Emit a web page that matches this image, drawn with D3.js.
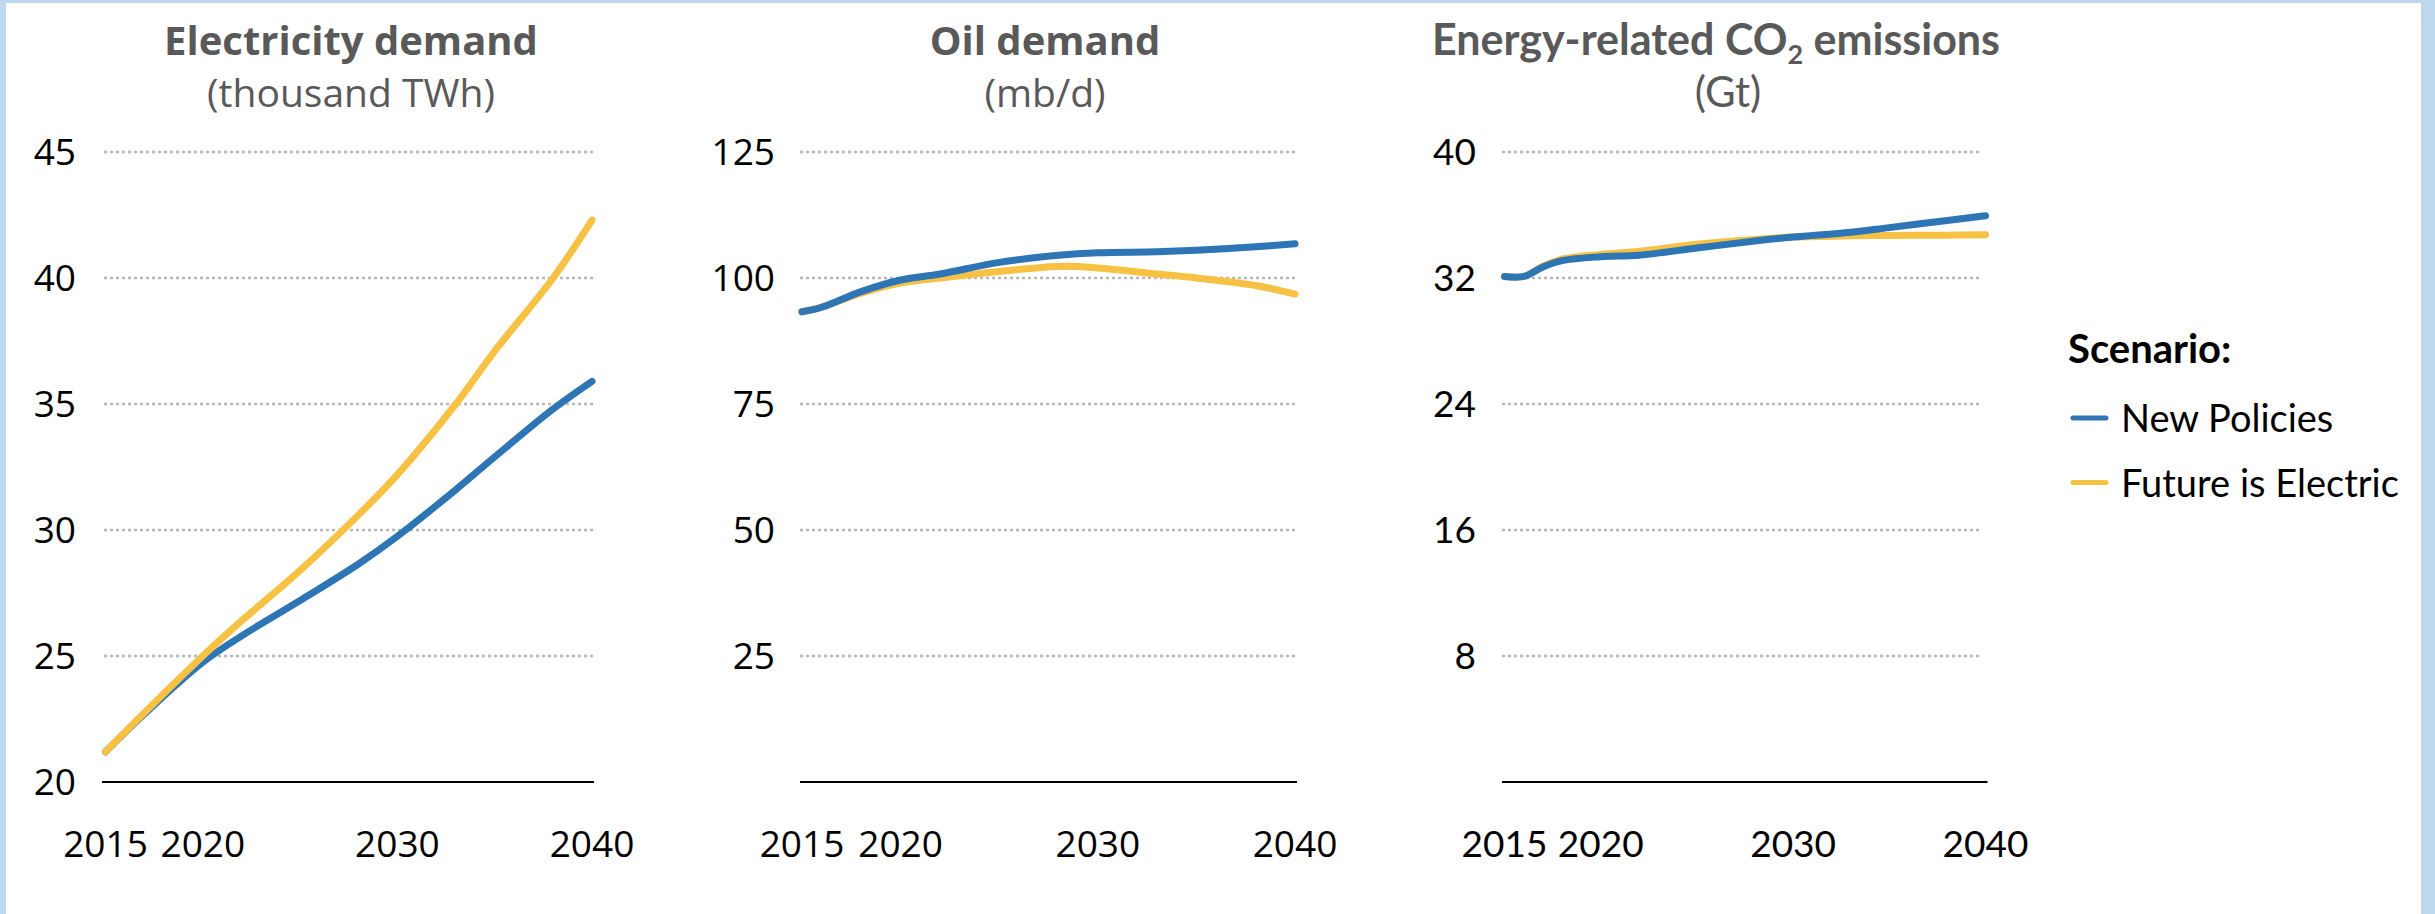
<!DOCTYPE html>
<html>
<head>
<meta charset="utf-8">
<script src="https://cdn.jsdelivr.net/npm/d3@7"></script>
<style>
  html, body { margin: 0; padding: 0; background: #fff; }
  svg { display: block; }
</style>
</head>
<body>
<div id="chart"></div>
<script>
// scenario series
var seriesNames = ["New Policies", "Future is Electric"];
var seriesColors = ["#2E75B6", "#F7C244"];

// electricity demand (thousand TWh)
var elecYears = [2015, 2017, 2020, 2022, 2025, 2028, 2030, 2033, 2035, 2038, 2040];
var elecNPS   = [21.2, 22.7, 24.75, 25.8, 27.2, 28.65, 29.75, 31.6, 32.9, 34.8, 35.9];
var elecFiE   = [21.2, 22.75, 25.0, 26.4, 28.4, 30.6, 32.2, 35.0, 37.1, 40.0, 42.3];
var elecTicks = [20, 25, 30, 35, 40, 45];

// oil demand (mb/d)
var oilYears = [2015, 2016, 2018, 2020, 2022, 2025, 2028, 2030, 2033, 2035, 2038, 2040];
var oilNPS   = [93.3, 94.2, 97.3, 99.6, 100.8, 103.1, 104.5, 105.0, 105.2, 105.5, 106.2, 106.8];
var oilFiE   = [93.3, 94.2, 97.0, 99.0, 100.0, 101.3, 102.3, 102.0, 100.8, 100.0, 98.5, 96.8];
var oilTicks = [25, 50, 75, 100, 125];

// energy-related CO2 emissions (Gt)
var co2Years = [2015, 2016, 2017, 2018, 2020, 2022, 2025, 2028, 2030, 2033, 2035, 2038, 2040];
var co2NPS   = [32.1, 32.1, 32.7, 33.1, 33.35, 33.45, 33.9, 34.35, 34.6, 34.9, 35.2, 35.65, 35.95];
var co2FiE   = [32.1, 32.1, 32.75, 33.2, 33.5, 33.7, 34.15, 34.45, 34.6, 34.68, 34.7, 34.72, 34.75];
var co2Ticks = [8, 16, 24, 32, 40];

var yearTicks = [2015, 2020, 2030, 2040];

var W = 2435, H = 914;
var svg = d3.select("#chart").append("svg")
    .attr("width", W)
    .attr("height", H);

// light blue frame
svg.append("rect").attr("x", 0).attr("y", 0).attr("width", 6).attr("height", H).attr("fill", "#BDD7EE");
svg.append("rect").attr("x", 0).attr("y", 0).attr("width", W).attr("height", 3).attr("fill", "#BDD7EE");
svg.append("rect").attr("x", 2421).attr("y", 0).attr("width", W - 2421).attr("height", H).attr("fill", "#BDD7EE");

var panels = [
    {title: ["Electricity demand"], sub: "(thousand TWh)", years: elecYears, values: [elecNPS, elecFiE],
     domain: [20, 45], ticks: elecTicks, x0: 105.5, x1: 592, grid0: 104, grid1: 594, base0: 102,
     labelX: 76, titleX: 351, subX: 351, titleSize: 40, font: "'Open Sans', 'DejaVu Sans', sans-serif", order: [0, 1]},
    {title: ["Oil demand"], sub: "(mb/d)", years: oilYears, values: [oilNPS, oilFiE],
     domain: [0, 125], ticks: oilTicks, x0: 802, x1: 1295, grid0: 800, grid1: 1295, base0: 800,
     labelX: 775, titleX: 1045, subX: 1045, titleSize: 40, font: "'Open Sans', 'DejaVu Sans', sans-serif", order: [1, 0]},
    {title: ["Energy-related CO", "2", " emissions"], sub: "(Gt)", years: co2Years, values: [co2NPS, co2FiE],
     domain: [0, 40], ticks: co2Ticks, x0: 1504.5, x1: 1985.5, grid0: 1502, grid1: 1982, base0: 1502,
     labelX: 1476, titleX: 1716, subX: 1728, titleSize: 43, font: "Lato, 'Open Sans', sans-serif", order: [1, 0]}
];

var yTop = 152, yBottom = 782;

panels.forEach(function(p) {
    var x = d3.scaleLinear().domain([2015, 2040]).range([p.x0, p.x1]);
    var y = d3.scaleLinear().domain(p.domain).range([yBottom, yTop]);
    var g = svg.append("g").style("font-family", p.font);

    // title
    var t = g.append("text")
        .attr("x", p.titleX).attr("y", 55)
        .attr("text-anchor", "middle")
        .style("font-size", p.titleSize + "px").style("font-weight", "bold")
        .attr("fill", "#595959");
    if (p.title.length === 1) {
        t.text(p.title[0]);
    } else {
        t.append("tspan").text(p.title[0]);
        t.append("tspan").text(p.title[1]).attr("dy", 9).style("font-size", "27px");
        t.append("tspan").text(p.title[2]).attr("dy", -9);
    }
    g.append("text")
        .attr("x", p.subX).attr("y", 107)
        .attr("text-anchor", "middle")
        .style("font-size", (p.titleSize - 1) + "px")
        .attr("fill", "#595959")
        .text(p.sub);

    // dotted gridlines
    g.selectAll(".grid")
        .data(p.ticks.filter(function(d) { return d !== p.domain[0]; }))
        .enter().append("line")
        .attr("x1", p.grid0).attr("x2", p.grid1)
        .attr("y1", function(d) { return y(d); })
        .attr("y2", function(d) { return y(d); })
        .attr("stroke", "#B8B8B8")
        .attr("stroke-width", 2.5)
        .attr("stroke-dasharray", "3,3");

    // baseline
    g.append("line")
        .attr("x1", p.base0).attr("x2", p.x1 + 2)
        .attr("y1", yBottom).attr("y2", yBottom)
        .attr("stroke", "#000").attr("stroke-width", 2);

    // y tick labels
    g.selectAll(".ylab")
        .data(p.ticks)
        .enter().append("text")
        .attr("x", p.labelX)
        .attr("y", function(d) { return y(d); })
        .attr("dy", "0.36em")
        .attr("text-anchor", "end")
        .style("font-size", "37px")
        .attr("fill", "#000")
        .text(function(d) { return d; });

    // x tick labels
    g.selectAll(".xlab")
        .data(yearTicks)
        .enter().append("text")
        .attr("x", function(d) { return x(d); })
        .attr("y", 857)
        .attr("text-anchor", "middle")
        .style("font-size", "37px")
        .attr("fill", "#000")
        .text(function(d) { return d; });

    // lines
    var line = d3.line()
        .x(function(d) { return x(d[0]); })
        .y(function(d) { return y(d[1]); })
        .curve(d3.curveCatmullRom.alpha(0.5));

    p.order.forEach(function(i) {
        var pts = p.years.map(function(yr, k) { return [yr, p.values[i][k]]; });
        g.append("path")
            .datum(pts)
            .attr("d", line)
            .attr("fill", "none")
            .attr("stroke", seriesColors[i])
            .attr("stroke-width", 7)
            .attr("stroke-linecap", "round")
            .attr("stroke-linejoin", "round");
    });
});

// legend
var lg = svg.append("g").style("font-family", "Lato, 'Open Sans', sans-serif");
lg.append("text")
    .attr("x", 2068).attr("y", 363)
    .style("font-size", "40px").style("font-weight", "bold")
    .attr("fill", "#000")
    .text("Scenario:");
var items = lg.selectAll(".item")
    .data(seriesNames)
    .enter().append("g")
    .attr("transform", function(d, i) { return "translate(0," + (418 + i * 64.5) + ")"; });
items.append("line")
    .attr("x1", 2073).attr("x2", 2106)
    .attr("stroke", function(d, i) { return seriesColors[i]; })
    .attr("stroke-width", 5)
    .attr("stroke-linecap", "round");
items.append("text")
    .attr("x", 2121).attr("y", 14)
    .style("font-size", "38px")
    .attr("fill", "#000")
    .text(function(d) { return d; });
</script>
</body>
</html>
